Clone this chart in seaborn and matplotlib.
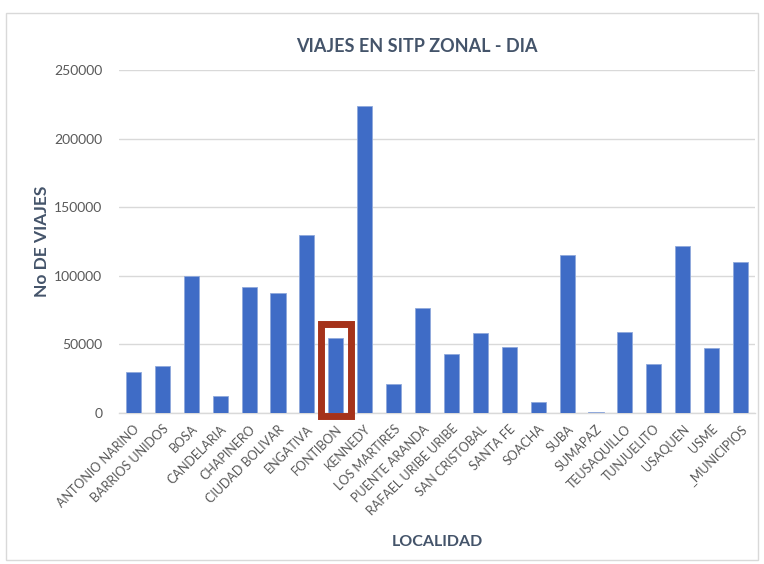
import matplotlib
matplotlib.use("Agg")
import matplotlib.pyplot as plt
import seaborn as sns
import pandas as pd
from matplotlib.patches import Rectangle

localidades = ["ANTONIO NARINO", "BARRIOS UNIDOS", "BOSA", "CANDELARIA", "CHAPINERO",
               "CIUDAD BOLIVAR", "ENGATIVA", "FONTIBON", "KENNEDY", "LOS MARTIRES",
               "PUENTE ARANDA", "RAFAEL URIBE URIBE", "SAN CRISTOBAL", "SANTA FE",
               "SOACHA", "SUBA", "SUMAPAZ", "TEUSAQUILLO", "TUNJUELITO", "USAQUEN",
               "USME", "_MUNICIPIOS"]
viajes = [29800, 34600, 99500, 12700, 91500, 87800, 130000, 54400, 223500, 21200,
          76800, 42700, 58000, 48000, 7800, 115400, 1000, 59000, 35400, 121500,
          47600, 109800]
yticks = [0, 50000, 100000, 150000, 200000, 250000]
highlight = "FONTIBON"

sns.set_theme(style="white")
plt.rcParams['font.family'] = ['Lato', 'DejaVu Sans']

df = pd.DataFrame({"LOCALIDAD": localidades, "VIAJES": viajes})

fig = plt.figure(figsize=(7.64, 5.64), dpi=100)
ax = fig.add_axes([119/764, 1-413/564, (755-119)/764, (413-70)/564])

sns.barplot(data=df, x="LOCALIDAD", y="VIAJES", color="#3F6CC6", width=0.52,
            saturation=1, ax=ax, zorder=3, edgecolor="#8FA9DC", linewidth=0.6)

ax.set_ylim(0, 250000)
ax.set_xlim(-0.5, len(localidades) - 0.5)
ax.set_yticks(yticks)
ax.set_yticklabels([str(v) for v in yticks], fontsize=10, color="#595959")
ax.yaxis.grid(True, color="#D9D9D9", linewidth=1, zorder=0)
ax.tick_params(axis="y", length=0, pad=12)
ax.tick_params(axis="x", length=0, pad=7)
plt.setp(ax.get_xticklabels(), rotation=45, ha="right", rotation_mode="anchor",
         fontsize=9, color="#595959")
for s in ["top", "right", "left"]:
    ax.spines[s].set_visible(False)
ax.spines["bottom"].set_color("#D9D9D9")
ax.spines["bottom"].set_linewidth(1)

ax.set_xlabel("LOCALIDAD", fontsize=11.5, fontweight="bold", color="#44546A", labelpad=0)
ax.xaxis.set_label_coords(0.5, -(535-413)/343)
ax.set_ylabel("No DE VIAJES", fontsize=12.5, fontweight="bold", color="#44546A")
ax.yaxis.set_label_coords(-(119-50)/636, 0.5)

fig.text(417/764, 1-47/564, "VIAJES EN SITP ZONAL - DIA", ha="center", va="center",
         fontsize=13, fontweight="bold", color="#44546A")

# highlight box
i = localidades.index(highlight)
rect = Rectangle((i - 0.515, -2550), 1.03, 67400, fill=False, edgecolor="#A5321A",
                 linewidth=5, zorder=5, clip_on=False)
ax.add_patch(rect)

# chart border
fig.patches.append(Rectangle((6/764, 1-560/564), (758-6)/764, (560-13)/564,
                             transform=fig.transFigure, fill=False,
                             edgecolor="#D9D9D9", linewidth=1))

fig.savefig("out.png", dpi=100)
